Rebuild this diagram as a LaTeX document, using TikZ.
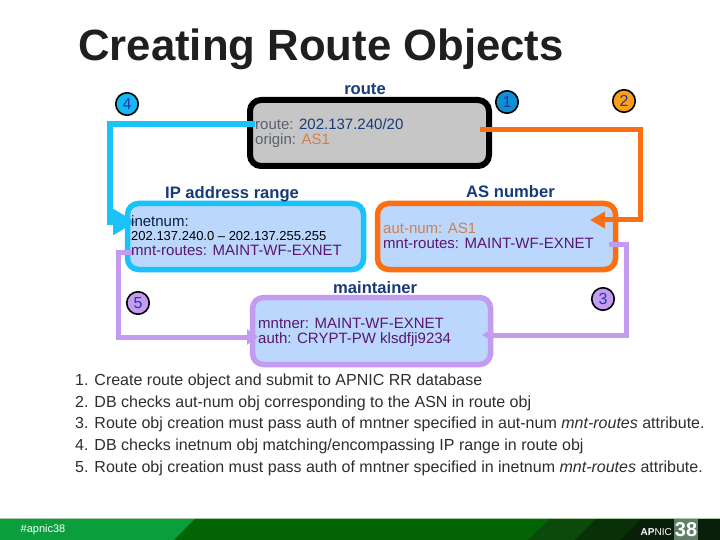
\documentclass[tikz,border=0pt]{standalone}
\usepackage{fontspec}
\setmainfont{Liberation Sans}
\usetikzlibrary{arrows.meta}
\definecolor{cyanline}{HTML}{19C3F8}
\definecolor{orangeline}{HTML}{F96F12}
\definecolor{purpleline}{HTML}{C39CF2}
\definecolor{boxfill}{HTML}{BBD7FC}
\definecolor{routefill}{HTML}{C6C6C6}
\definecolor{navy}{HTML}{173B78}
\definecolor{labelgray}{HTML}{59606E}
\definecolor{ascol}{HTML}{D0804E}
\definecolor{plum}{HTML}{5A1670}
\definecolor{badgeblue}{HTML}{2638B0}
\definecolor{listcol}{HTML}{2E2E2E}
\definecolor{ftdark}{HTML}{036403}
\definecolor{ftlight}{HTML}{0A9E3C}
\definecolor{ftrule}{HTML}{A8C8A8}
\definecolor{ftblack}{HTML}{0A1F0A}
\definecolor{ftmida}{HTML}{0B4A0B}
\definecolor{ftmidb}{HTML}{0A3008}
\definecolor{ftlogo}{HTML}{5F7F66}
\definecolor{bd4}{HTML}{13B9F2}
\definecolor{bd1}{HTML}{0E8FD2}
\definecolor{bd2}{HTML}{F9A018}
\tikzset{
  x=1pt,y=-1pt,
  objbox/.style={rounded corners=11pt,anchor=center,inner sep=0pt},
  boxtext/.style={anchor=north west,inner sep=0pt,align=left,font=\fontsize{15}{15}\selectfont},
  heading/.style={font=\bfseries\fontsize{16.6}{18}\selectfont,text=navy,inner sep=0pt},
  badge/.style={circle,draw=black,line width=1.6pt,minimum size=22.5pt,inner sep=0pt,text=badgeblue,font=\fontsize{16}{16}\selectfont},
  conn/.style={line width=#1,line join=miter},
  listline/.style={anchor=base west,inner sep=0pt,text=listcol,font=\fontsize{16}{18}\selectfont},
}
\begin{document}
\begin{tikzpicture}
\useasboundingbox (0,0) rectangle (720,540);
\fill[white] (0,0) rectangle (720,540);
% footer
\fill[ftblack] (0,518.5) rectangle (720,540);
\fill[ftmidb] (596,518.5) -- (642,518.5) -- (620,540) -- (575,540) -- cycle;
\fill[ftmida] (550,518.5) -- (596,518.5) -- (575,540) -- (528,540) -- cycle;
\fill[ftdark] (190,518.5) -- (550,518.5) -- (528,540) -- (172,540) -- cycle;
\fill[ftlight] (0,518.5) -- (195,518.5) -- (174,540) -- (0,540) -- cycle;
\draw[ftrule,line width=0.8pt] (0,518.5) -- (720,518.5);
\fill[ftlogo] (674,519) rectangle (698,540);
\node[inner sep=0pt,anchor=center,text=white,font=\fontsize{11}{11}\selectfont] (tag) at (43,530) {\#apnic38};
\node[inner sep=0pt,anchor=base east,text=white,font=\fontsize{10}{10}\selectfont] (apn) at (672,535) {\textbf{AP}NIC};
\node[inner sep=0pt,anchor=center,text=white,font=\bfseries\fontsize{20}{20}\selectfont] (n38) at (686,529.5) {38};
% title
\node[anchor=base west,inner sep=0pt,text=black!88,font=\bfseries\fontsize{43.7}{46}\selectfont] (title) at (78,61) {Creating Route Objects};
% boxes
\node[objbox,draw=black,fill=routefill,line width=6pt,minimum width=239pt,minimum height=66pt] (route) at (369.5,133) {};
\node[objbox,draw=cyanline,fill=boxfill,line width=5.5pt,minimum width=236pt,minimum height=66pt] (ip) at (245.5,236.5) {};
\node[objbox,draw=orangeline,fill=boxfill,line width=5.5pt,minimum width=238pt,minimum height=66pt] (as) at (496.5,236.5) {};
\node[objbox,draw=purpleline,fill=boxfill,line width=5.5pt,minimum width=238pt,minimum height=67pt] (mnt) at (371.5,331) {};
% headings
\node[heading] (hroute) at (365,89) {route};
\node[heading,anchor=base west] (hip) at (165,199) {IP address range};
\node[heading,anchor=base west] (has) at (466,197) {AS number};
\node[heading,anchor=base west] (hmnt) at (333,293) {maintainer};
% ports
\coordinate (c4a) at (255,124);
\coordinate (c4b) at (110,124);
\coordinate (c4c) at (110,222);
\coordinate (c4d) at (136,222);
\coordinate (c2a) at (480,130);
\coordinate (c2b) at (640,130);
\coordinate (c2c) at (640,220);
\coordinate (c2d) at (590,220);
\coordinate (c5a) at (134,252);
\coordinate (c5b) at (118,252);
\coordinate (c5c) at (118,337);
\coordinate (c5d) at (258,337);
\coordinate (c3a) at (609,244);
\coordinate (c3b) at (626,244);
\coordinate (c3c) at (626,335);
\coordinate (c3d) at (482,335);
% connectors
\draw[conn=6pt,draw=cyanline,-{Triangle[length=23pt,width=25pt]}] (c4a) -- (c4b) -- (c4c) -- (c4d);
\draw[conn=5pt,draw=orangeline,-{Triangle[length=15pt,width=16pt]}] (c2a) -- (c2b) -- (c2c) -- (c2d);
\draw[conn=5pt,draw=purpleline,-{Triangle[length=11pt,width=15pt]}] (c5a) -- (c5b) -- (c5c) -- (c5d);
\draw[conn=5pt,draw=purpleline,-{Triangle[length=11pt,width=13pt]}] (c3a) -- (c3b) -- (c3c) -- (c3d);
% box text
\node[boxtext] (troute) at (255,118) {\textcolor{labelgray}{route:} \textcolor{navy}{202.137.240/20}\\\textcolor{labelgray}{origin:} \textcolor{ascol}{AS1}};
\node[boxtext] (tip) at (131,215) {\textcolor{navy!50!black}{inetnum:}\\[-1pt]\textcolor{black}{\fontsize{13}{14}\selectfont 202.137.240.0 – 202.137.255.255}\\\textcolor{plum}{mnt-routes: MAINT-WF-EXNET}};
\node[boxtext] (tas) at (383,223) {\textcolor{ascol}{aut-num: AS1}\\\textcolor{plum}{mnt-routes: MAINT-WF-EXNET}};
\node[boxtext,text=plum] (tmnt) at (258,318) {mntner: MAINT-WF-EXNET\\auth: CRYPT-PW klsdfji9234};
% badges
\node[badge,fill=bd4] (b4) at (127,104) {4};
\node[badge,fill=bd1] (b1) at (507,102) {1};
\node[badge,fill=bd2] (b2) at (624,101) {2};
\node[badge,fill=purpleline] (b5) at (138,303) {5};
\node[badge,fill=purpleline] (b3) at (603,299) {3};
% list
\node[listline] (l1) at (75,385) {1. Create route object and submit to APNIC RR database};
\node[listline] (l2) at (75,407) {2. DB checks aut-num obj corresponding to the ASN in route obj};
\node[listline] (l3) at (75,428) {3. Route obj creation must pass auth of mntner specified in aut-num \textit{mnt-routes} attribute.};
\node[listline] (l4) at (75,450) {4. DB checks inetnum obj matching/encompassing IP range in route obj};
\node[listline] (l5) at (75,472) {5. Route obj creation must pass auth of mntner specified in inetnum \textit{mnt-routes} attribute.};
\end{tikzpicture}
\end{document}
